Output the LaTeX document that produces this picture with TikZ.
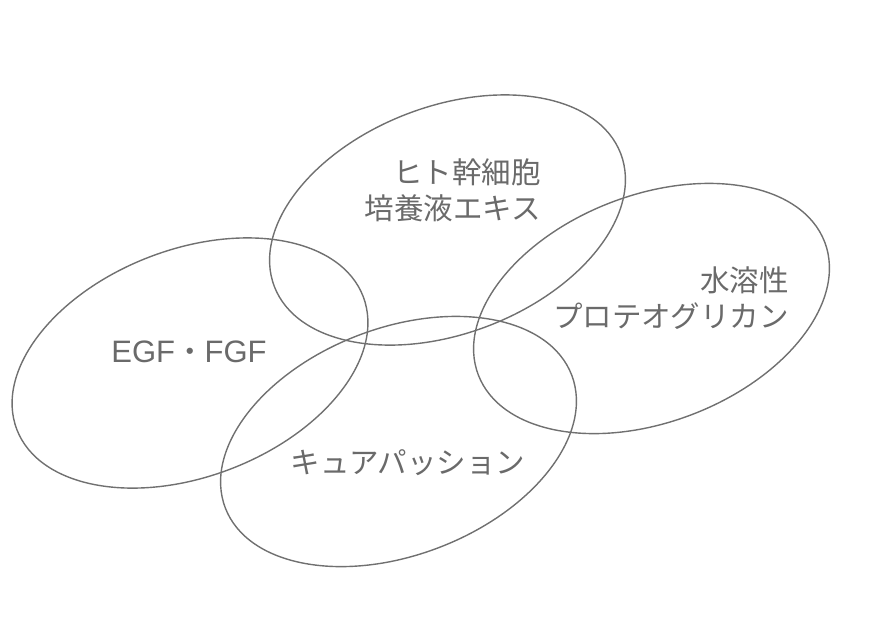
\documentclass[tikz,border=0pt]{standalone}
\usepackage{fontspec}
\setmainfont{Noto Sans CJK JP}
\newfontfamily\latinfont{Liberation Sans}
\usetikzlibrary{shapes.geometric}
\definecolor{linegray}{HTML}{707070}
\definecolor{textgray}{HTML}{6A6A6A}
\tikzset{
  oval/.style={ellipse, draw=linegray, line width=1.4pt, minimum width=371pt, minimum height=227pt, inner sep=0pt, rotate=21},
  lbl/.style={text=textgray, font=\fontsize{29.5}{36}\selectfont, inner sep=0pt, align=right}
}
\begin{document}
\begin{tikzpicture}[x=1pt,y=-1pt]
\useasboundingbox (0,0) rectangle (869,643);
\node[oval] (top) at (447.5,220) {};
\node[oval] (left) at (190,363) {};
\node[oval] (right) at (651.5,308.5) {};
\node[oval] (bottom) at (398.5,441.5) {};
\node[lbl, anchor=east] (ttop) at (541,190) {ヒト幹細胞\\培養液エキス};
\node[lbl] (tleft) at (189,352) {{\latinfont\fontsize{31}{36}\selectfont EGF}・{\latinfont\fontsize{31}{36}\selectfont FGF}};
\node[lbl, anchor=east] (tright) at (789,298) {水溶性\\プロテオグリカン};
\node[lbl] (tbottom) at (408,463) {キュアパッション};
\end{tikzpicture}
\end{document}
